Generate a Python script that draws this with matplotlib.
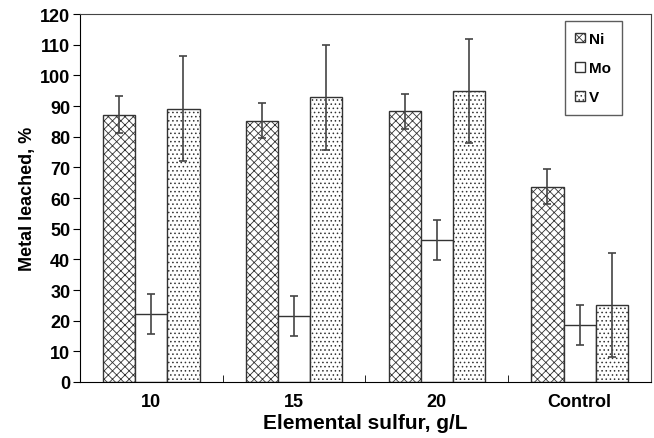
import numpy as np
import matplotlib.pyplot as plt

# data
groups = ['10', '15', '20', 'Control']
ni = [87.2, 85.2, 88.3, 63.7]
ni_err = [6.0, 5.7, 5.8, 5.8]
mo = [22.3, 21.5, 46.3, 18.5]
mo_err = [6.5, 6.5, 6.5, 6.5]
v = [89.2, 92.8, 94.8, 25.0]
v_err = [17.0, 17.0, 17.0, 17.0]

plt.rcParams['font.family'] = ['Liberation Sans', 'DejaVu Sans']
plt.rcParams['font.weight'] = 'bold'
plt.rcParams['hatch.linewidth'] = 0.6

fig = plt.figure(figsize=(6.54, 4.39), dpi=100)
ax = fig.add_axes([0.1223, 0.1276, 0.873, 0.838])

x = np.arange(len(groups))
w = 0.225
edge = '#333333'
err_kw = dict(ecolor='#444444', elinewidth=1.2, capsize=3, capthick=1.2)

ax.bar(x - w, ni, w, yerr=ni_err, color='white', edgecolor=edge, hatch='xxxx',
       linewidth=1, label='Ni', error_kw=err_kw)
ax.bar(x, mo, w, yerr=mo_err, color='white', edgecolor=edge,
       linewidth=1, label='Mo', error_kw=err_kw)
ax.bar(x + w, v, w, yerr=v_err, color='white', edgecolor=edge, hatch='....',
       linewidth=1, label='V', error_kw=err_kw)

ax.set_xlim(-0.5, len(groups) - 0.5)
ax.set_ylim(0, 120)
ax.set_yticks(range(0, 121, 10))
ax.set_xticks(x)
ax.set_xticklabels(groups)
ax.set_xticks(np.arange(0.5, len(groups) - 0.5, 1), minor=True)
ax.tick_params(axis='x', which='major', length=0, labelsize=13, pad=8)
ax.tick_params(axis='x', which='minor', direction='in', length=5)
ax.tick_params(axis='y', direction='out', length=5, labelsize=13, pad=2)
for s in ax.spines.values():
    s.set_color('#444444')
ax.spines['left'].set_color('black')
ax.spines['bottom'].set_color('black')

ax.set_xlabel('Elemental sulfur, g/L', fontsize=15, fontweight='bold', labelpad=2)
ax.set_ylabel('Metal leached, %', fontsize=13, fontweight='bold', labelpad=3)

leg = ax.legend(loc='upper right', bbox_to_anchor=(0.949, 0.981), borderaxespad=0,
                fancybox=False, edgecolor='#333333', handlelength=0.6,
                handleheight=0.6, handletextpad=0.3, labelspacing=1.0,
                borderpad=0.7, fontsize=11)
leg.get_frame().set_linewidth(1)

plt.savefig('out.png', dpi=100)
